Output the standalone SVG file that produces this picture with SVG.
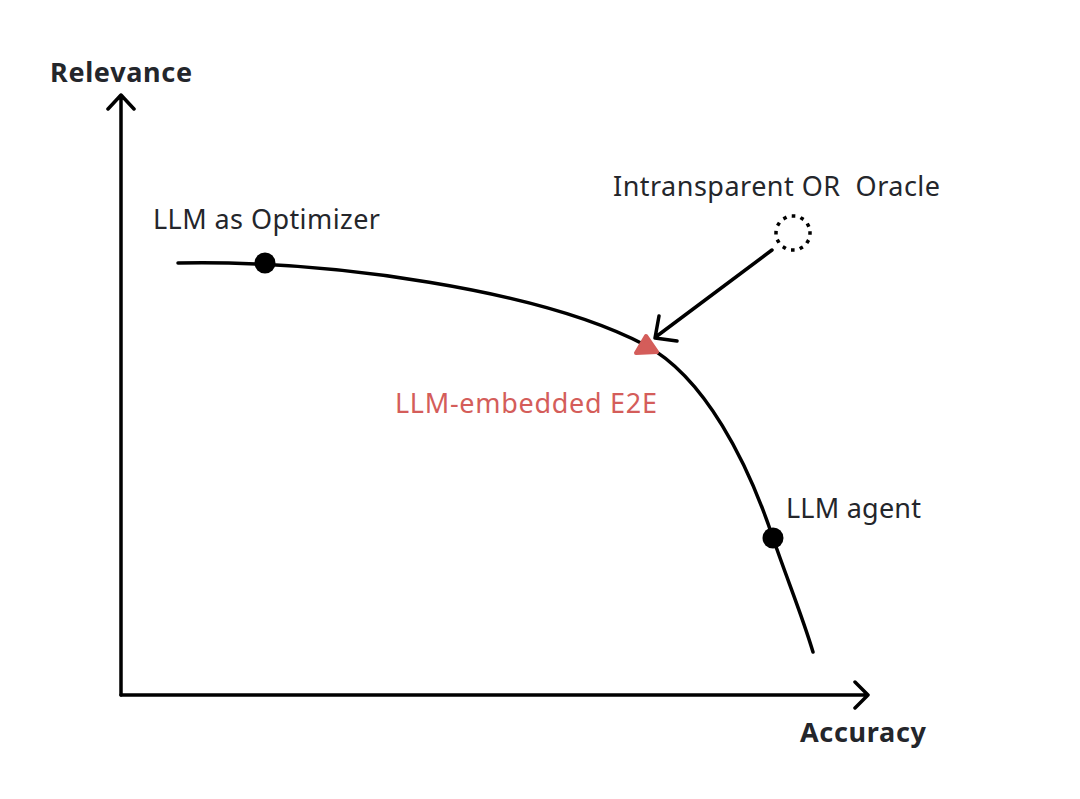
<svg xmlns="http://www.w3.org/2000/svg" width="1080" height="799" viewBox="0 0 1080 799">
<style>
.lbl{font-family:"Source Sans Pro","Noto Sans","Liberation Sans",sans-serif;font-size:27px;fill:#24262b}
.ax{font-family:"Source Sans Pro","Noto Sans","Liberation Sans",sans-serif;font-size:27px;font-weight:bold;fill:#24262b}
.ln{fill:none;stroke:#000;stroke-width:3.5;stroke-linecap:round;stroke-linejoin:round}
</style>
<rect width="1080" height="799" fill="#fff"/>
<g id="axes">
<path class="ln" d="M121 695 V95 M108 109 L121 95 L134 109"/>
<path class="ln" d="M121 695 H868 M855 682 L868 695 L855 708"/>
<text class="ax" x="50" y="82" textLength="142">Relevance</text>
<text class="ax" x="800" y="742" textLength="126">Accuracy</text>
</g>
<g id="connectors">
<path class="ln" d="M178 263 C330 260 540 290 645 345 C705 377 748 463 773 538 C787 579 802 615 813 652"/>
<path class="ln" d="M772 250 L657 336 M659 316 L655 338 L677 341"/>
</g>
<g id="llm-optimizer">
<circle cx="265" cy="263" r="10.5" fill="#000"/>
<text class="lbl" x="153" y="229" textLength="227">LLM as Optimizer</text>
</g>
<g id="llm-e2e">
<path d="M646 336 L657 352 L636 353 Z" fill="#d45d5a" stroke="#d45d5a" stroke-width="4" stroke-linejoin="round"/>
<text class="lbl" x="395" y="413" style="fill:#d45d5a" textLength="262">LLM-embedded E2E</text>
</g>
<g id="llm-agent">
<circle cx="773" cy="538" r="10.5" fill="#000"/>
<text class="lbl" x="786" y="518" textLength="135">LLM agent</text>
</g>
<g id="oracle">
<circle cx="793" cy="233" r="17" fill="none" stroke="#000" stroke-width="3.5" stroke-dasharray="0.1 8.8" stroke-linecap="square"/>
<text class="lbl" x="613" y="196" xml:space="preserve" textLength="327">Intransparent OR  Oracle</text>
</g>
</svg>
